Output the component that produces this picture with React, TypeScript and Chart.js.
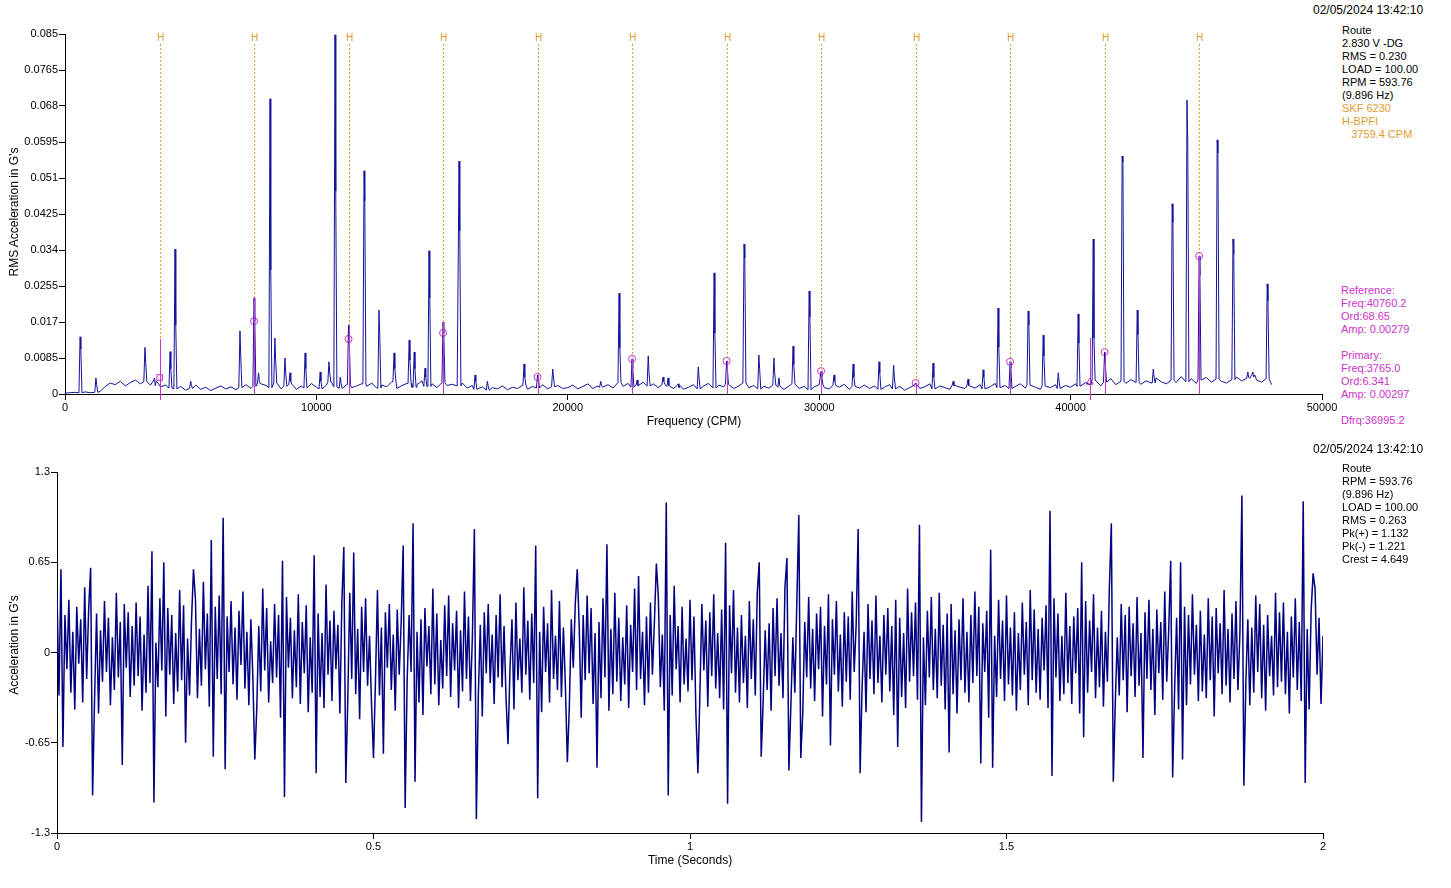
import React, { useEffect, useRef } from "react";
import { Chart, registerables } from "chart.js";

Chart.register(...registerables);

const FONT = '"Liberation Sans", Arial, Helvetica, sans-serif';
const INK = "#000000";
const SPEC_COLOR = "#12129c";
const WAVE_COLOR = "#000080";
const MAGENTA = "#cc33cc";
const ORANGE = "#e09a30";

// ---------------- Spectrum data ----------------
const specXTicks = [0, 10000, 20000, 30000, 40000, 50000];
const specYTicks = [0, 0.0085, 0.017, 0.0255, 0.034, 0.0425, 0.051, 0.0595, 0.068, 0.0765, 0.085];
const SPEC_BASE_STEP = 200; // CPM between baseline samples
const specBase = [
  0.0002, 0.0003, 0.0004, 0.0003, 0.0005, 0.0003, 0.0004, 0.0006, 0.0018, 0.0026, 0.0022, 0.003, 0.0019, 0.0027, 0.0033, 0.0024, 0.0029, 0.0021, 0.0031, 0.0017,
  0.0021, 0.0014, 0.0012, 0.0018, 0.0009, 0.0013, 0.0021, 0.0011, 0.0016, 0.0008, 0.0014, 0.0019, 0.0012, 0.0017, 0.001, 0.0015, 0.0022, 0.0013, 0.0018, 0.0024,
  0.002, 0.0015, 0.0026, 0.0012, 0.0018, 0.0023, 0.0011, 0.0019, 0.0014, 0.0025, 0.0016, 0.0012, 0.0021, 0.0028, 0.0017, 0.0013, 0.0022, 0.0015, 0.0019, 0.0024,
  0.0018, 0.0026, 0.0014, 0.0021, 0.0017, 0.0029, 0.0013, 0.002, 0.0025, 0.0016, 0.0022, 0.0031, 0.0018, 0.0024, 0.0015, 0.0027, 0.002, 0.0023, 0.0019, 0.0026,
  0.0014, 0.002, 0.0011, 0.0017, 0.0009, 0.0015, 0.0012, 0.0019, 0.001, 0.0016, 0.0013, 0.0021, 0.0011, 0.0018, 0.0014, 0.0022, 0.0012, 0.0017, 0.002, 0.0013,
  0.0015, 0.0021, 0.0012, 0.0018, 0.0024, 0.0013, 0.0019, 0.0016, 0.0022, 0.0014, 0.0027, 0.0018, 0.0025, 0.0016, 0.0021, 0.0028, 0.0019, 0.0024, 0.0015, 0.0022,
  0.0018, 0.0013, 0.002, 0.0011, 0.0016, 0.0022, 0.0012, 0.0019, 0.0025, 0.0014, 0.0021, 0.0017, 0.0023, 0.0013, 0.0019, 0.0026, 0.0015, 0.002, 0.0012, 0.0018,
  0.0014, 0.0021, 0.0016, 0.0011, 0.0019, 0.0024, 0.0013, 0.0018, 0.001, 0.0017, 0.0022, 0.0015, 0.0012, 0.002, 0.0016, 0.0023, 0.0011, 0.0018, 0.0014, 0.0021,
  0.0013, 0.0019, 0.0011, 0.0016, 0.0022, 0.0012, 0.0018, 0.0009, 0.0015, 0.0021, 0.0013, 0.0017, 0.0024, 0.0012, 0.0019, 0.0015, 0.0011, 0.002, 0.0016, 0.0013,
  0.0019, 0.0014, 0.0022, 0.0012, 0.0017, 0.0025, 0.0015, 0.002, 0.0013, 0.0018, 0.0024, 0.0014, 0.0021, 0.0016, 0.0011, 0.0019, 0.0015, 0.0022, 0.0013, 0.002,
  0.0016, 0.0024, 0.0018, 0.0027, 0.0021, 0.0033, 0.0019, 0.0028, 0.0036, 0.0022, 0.003, 0.0025, 0.0034, 0.0027, 0.0023, 0.0031, 0.0026, 0.0038, 0.0029, 0.0024,
  0.0032, 0.0027, 0.0041, 0.0029, 0.0036, 0.0025, 0.0033, 0.0039, 0.0028, 0.0035, 0.003, 0.0026, 0.0034, 0.004, 0.0031, 0.0037, 0.0045, 0.0033, 0.0028, 0.0036,
  0.0022,
];
// [frequency CPM, peak amplitude, adjacent-bin amplitude]
const specPeaks: [number, number, number][] = [
  [600, 0.0135, 0.0106], [1230, 0.0038, 0.0022], [3180, 0.011, 0.0075], [3560, 0.0038, 0.002],
  [4180, 0.01, 0.006], [4376, 0.0342, 0.0163], [5000, 0.003, 0.002], [6960, 0.0149, 0.009],
  [7519, 0.0227, 0.0172], [7700, 0.005, 0.003], [8155, 0.0697, 0.0293], [8350, 0.0132, 0.008],
  [8750, 0.0085, 0.005], [8950, 0.005, 0.003], [9550, 0.0097, 0.006], [10150, 0.0052, 0.003],
  [10500, 0.0076, 0.005], [10740, 0.0848, 0.0479], [10950, 0.004, 0.0025], [11278, 0.0163, 0.013],
  [11895, 0.0527, 0.0456], [12490, 0.0198, 0.014], [13090, 0.0097, 0.006], [13690, 0.0127, 0.008],
  [13890, 0.0099, 0.006], [14320, 0.0061, 0.004], [14480, 0.0338, 0.0227], [15038, 0.017, 0.0144],
  [15673, 0.055, 0.0385], [16310, 0.0045, 0.003], [16800, 0.003, 0.002], [18260, 0.0071, 0.004],
  [18797, 0.0045, 0.004], [19400, 0.0059, 0.004], [21310, 0.003, 0.002], [22040, 0.0238, 0.0109],
  [22556, 0.0083, 0.006], [22760, 0.0033, 0.002], [23200, 0.009, 0.005], [23790, 0.004, 0.003],
  [23990, 0.0038, 0.002], [24390, 0.0024, 0.0015], [25190, 0.0064, 0.004], [25820, 0.0286, 0.0144],
  [26316, 0.0078, 0.006], [27010, 0.0354, 0.0321], [27600, 0.0092, 0.006], [28200, 0.0085, 0.005],
  [28400, 0.0038, 0.002], [28960, 0.0113, 0.007], [29600, 0.0243, 0.0182], [30075, 0.0054, 0.004],
  [30590, 0.0045, 0.003], [31350, 0.0071, 0.004], [32380, 0.0076, 0.005], [32960, 0.0068, 0.004],
  [33834, 0.0026, 0.002], [34530, 0.0073, 0.004], [35330, 0.003, 0.002], [35920, 0.0035, 0.002],
  [36520, 0.0057, 0.004], [37115, 0.0203, 0.0111], [37594, 0.0076, 0.006], [38310, 0.0196, 0.0163],
  [38910, 0.0139, 0.009], [39510, 0.005, 0.003], [40300, 0.0189, 0.012], [40900, 0.0366, 0.0132],
  [41353, 0.0099, 0.007], [42050, 0.0562, 0.0548], [42650, 0.0198, 0.014], [43290, 0.0059, 0.004],
  [44040, 0.0449, 0.0406], [44630, 0.0694, 0.0597], [45113, 0.0326, 0.028], [45830, 0.06, 0.0569],
  [46460, 0.0366, 0.033], [47050, 0.0052, 0.004], [47250, 0.0052, 0.004], [47820, 0.026, 0.022],
];
const harmonicCpm = [3759.4, 7518.8, 11278.2, 15037.6, 18797, 22556.4, 26315.8, 30075.2, 33834.6, 37594, 41353.4, 45112.8];
const markerCpm = [7518.8, 11278.2, 15037.6, 18797, 22556.4, 26315.8, 30075.2, 33834.6, 37594, 41353.4, 45112.8];
const markerAmp = [0.0172, 0.013, 0.0144, 0.004, 0.0083, 0.0078, 0.0054, 0.0026, 0.0076, 0.0099, 0.0326];
const markerTop = [0.0227, 0.0163, 0.017, 0.0045, 0.0083, 0.0078, 0.0054, 0.0026, 0.0076, 0.0099, 0.0326];
const cursorCpm = [3765, 40760.2];
const cursorAmp = [0.0039, 0.0028];
const cursorTop = [0.013, 0.0132];

// ---------------- Waveform data ----------------
const waveXTicks = [0, 0.5, 1, 1.5, 2];
const waveYTicks = [-1.3, -0.65, 0, 0.65, 1.3];
const WAVE_RATE = 320; // samples per second in this list
const waveNoise = [
  0.42, -0.31, 0.18, -0.55, 0.27, -0.12, 0.38, -0.29, 0.15, -0.41, 0.33, -0.08, 0.24, -0.36, 0.47, -0.19, 0.31, -0.26, 0.09, -0.33,
  0.28, -0.44, 0.16, -0.21, 0.37, -0.14, 0.25, -0.38, 0.11, -0.27, 0.43, -0.18, 0.22, -0.49, 0.35, -0.11, 0.29, -0.32, 0.19, -0.24,
  0.36, -0.17, 0.26, -0.42, 0.13, -0.29, 0.48, -0.22, 0.31, -0.35, 0.07, -0.25, 0.39, -0.13, 0.21, -0.46, 0.32, -0.16, 0.27, -0.37,
  0.14, -0.28, 0.45, -0.2, 0.34, -0.41, 0.1, -0.31, 0.23, -0.15, 0.38, -0.33, 0.17, -0.24, 0.51, -0.12, 0.28, -0.39, 0.2, -0.27,
  0.33, -0.19, 0.41, -0.3, 0.12, -0.45, 0.26, -0.14, 0.37, -0.23, 0.18, -0.34, 0.3, -0.09, 0.44, -0.26, 0.15, -0.38, 0.24, -0.17,
  0.29, -0.4, 0.19, -0.28, 0.46, -0.13, 0.32, -0.36, 0.08, -0.22, 0.35, -0.18, 0.27, -0.47, 0.2, -0.3, 0.4, -0.11, 0.25, -0.33,
  0.16, -0.25, 0.42, -0.37, 0.22, -0.15, 0.34, -0.43, 0.11, -0.29, 0.38, -0.2, 0.28, -0.32, 0.14, -0.4, 0.49, -0.16, 0.23, -0.35,
  0.3, -0.12, 0.2, -0.44, 0.36, -0.26, 0.1, -0.34, 0.43, -0.19, 0.26, -0.3, 0.17, -0.48, 0.33, -0.14, 0.39, -0.24, 0.12, -0.37,
  0.25, -0.2, 0.45, -0.31, 0.18, -0.39, 0.29, -0.11, 0.35, -0.27, 0.13, -0.42, 0.31, -0.16, 0.22, -0.33, 0.4, -0.21, 0.27, -0.14,
  0.37, -0.29, 0.15, -0.36, 0.24, -0.45, 0.32, -0.1, 0.19, -0.3, 0.46, -0.23, 0.28, -0.38, 0.09, -0.26, 0.34, -0.17, 0.41, -0.32,
  0.21, -0.13, 0.3, -0.4, 0.16, -0.28, 0.44, -0.19, 0.26, -0.35, 0.12, -0.24, 0.38, -0.31, 0.2, -0.46, 0.29, -0.15, 0.35, -0.22,
  0.13, -0.37, 0.27, -0.18, 0.42, -0.25, 0.19, -0.33, 0.31, -0.12, 0.24, -0.41, 0.36, -0.2, 0.1, -0.29, 0.47, -0.16, 0.23, -0.34,
  0.28, -0.22, 0.4, -0.3, 0.15, -0.43, 0.33, -0.14, 0.21, -0.36, 0.45, -0.19, 0.12, -0.27, 0.37, -0.32, 0.18, -0.24, 0.3, -0.39,
  0.24, -0.11, 0.35, -0.28, 0.19, -0.47, 0.27, -0.2, 0.41, -0.15, 0.32, -0.37, 0.14, -0.26, 0.22, -0.33, 0.39, -0.18, 0.29, -0.42,
  0.17, -0.3, 0.43, -0.21, 0.25, -0.35, 0.11, -0.23, 0.34, -0.4, 0.2, -0.14, 0.46, -0.27, 0.31, -0.19, 0.15, -0.38, 0.26, -0.29,
  0.36, -0.16, 0.22, -0.34, 0.4, -0.25, 0.13, -0.42, 0.3, -0.18, 0.27, -0.31, 0.48, -0.12, 0.19, -0.36, 0.33, -0.23, 0.1, -0.28,
  0.38, -0.2, 0.26, -0.45, 0.16, -0.3, 0.35, -0.13, 0.23, -0.39, 0.29, -0.17, 0.42, -0.26, 0.14, -0.33, 0.31, -0.41, 0.2, -0.24,
  0.34, -0.15, 0.45, -0.29, 0.18, -0.36, 0.27, -0.22, 0.12, -0.4, 0.37, -0.19, 0.24, -0.31, 0.43, -0.13, 0.28, -0.35, 0.16, -0.27,
  0.21, -0.42, 0.32, -0.17, 0.39, -0.24, 0.14, -0.33, 0.47, -0.2, 0.25, -0.38, 0.11, -0.29, 0.36, -0.15, 0.3, -0.44, 0.22, -0.18,
  0.4, -0.26, 0.17, -0.35, 0.28, -0.12, 0.33, -0.46, 0.19, -0.23, 0.42, -0.31, 0.24, -0.16, 0.37, -0.28, 0.13, -0.39, 0.29, -0.21,
  0.26, -0.34, 0.44, -0.14, 0.2, -0.37, 0.31, -0.25, 0.15, -0.43, 0.35, -0.19, 0.23, -0.3, 0.41, -0.22, 0.12, -0.36, 0.27, -0.16,
  0.32, -0.28, 0.19, -0.45, 0.38, -0.13, 0.25, -0.32, 0.14, -0.4, 0.46, -0.21, 0.29, -0.17, 0.36, -0.34, 0.22, -0.26, 0.11, -0.38,
  0.3, -0.18, 0.4, -0.27, 0.17, -0.33, 0.43, -0.24, 0.2, -0.41, 0.28, -0.12, 0.35, -0.3, 0.16, -0.44, 0.24, -0.2, 0.39, -0.29,
  0.15, -0.36, 0.27, -0.22, 0.44, -0.17, 0.33, -0.39, 0.21, -0.14, 0.3, -0.47, 0.26, -0.25, 0.12, -0.32, 0.38, -0.19, 0.23, -0.35,
  0.41, -0.23, 0.18, -0.31, 0.29, -0.42, 0.14, -0.27, 0.36, -0.16, 0.22, -0.38, 0.45, -0.2, 0.31, -0.29, 0.17, -0.34, 0.25, -0.13,
  0.34, -0.4, 0.2, -0.26, 0.39, -0.18, 0.28, -0.35, 0.12, -0.3, 0.43, -0.22, 0.19, -0.37, 0.26, -0.15, 0.32, -0.44, 0.16, -0.24,
  0.37, -0.29, 0.23, -0.14, 0.42, -0.33, 0.18, -0.25, 0.3, -0.39, 0.15, -0.21, 0.46, -0.28, 0.24, -0.36, 0.11, -0.31, 0.35, -0.2,
  0.27, -0.43, 0.33, -0.17, 0.21, -0.32, 0.4, -0.24, 0.14, -0.37, 0.29, -0.19, 0.38, -0.27, 0.17, -0.45, 0.31, -0.15, 0.22, -0.34,
  0.44, -0.21, 0.16, -0.3, 0.36, -0.26, 0.25, -0.41, 0.19, -0.12, 0.33, -0.38, 0.27, -0.23, 0.42, -0.16, 0.2, -0.35, 0.3, -0.28,
  0.13, -0.33, 0.39, -0.2, 0.26, -0.46, 0.32, -0.15, 0.21, -0.3, 0.45, -0.24, 0.17, -0.36, 0.28, -0.19, 0.37, -0.27, 0.14, -0.4,
  0.31, -0.22, 0.24, -0.38, 0.18, -0.29, 0.41, -0.14, 0.35, -0.33, 0.2, -0.42, 0.27, -0.17, 0.12, -0.31, 0.43, -0.25, 0.29, -0.21,
  0.36, -0.3, 0.15, -0.44, 0.26, -0.18, 0.39, -0.27, 0.22, -0.35, 0.33, -0.2, 0.17, -0.41, 0.3, -0.24, 0.46, -0.16, 0.25, -0.37,
  0.12,
];
// [time s, acceleration G] impacts
const waveSpikes: [number, number][] = [
  [0.0063, 0.6], [0.0094, -0.68], [0.0531, 0.61], [0.0563, -1.03], [0.1031, -0.81], [0.15, 0.73], [0.1531, -1.08],
  [0.1688, 0.65], [0.2031, -0.65], [0.2156, 0.6], [0.2438, 0.81], [0.2469, -0.75], [0.2625, 0.97], [0.2656, -0.84],
  [0.3125, -0.77], [0.3563, 0.66], [0.3594, -1.04], [0.4063, 0.7], [0.4094, -0.87], [0.4531, 0.76], [0.4563, -0.94],
  [0.4688, 0.72], [0.5, -0.76], [0.5156, -0.73], [0.5469, 0.77], [0.55, -1.12], [0.5625, 0.93], [0.5656, -0.93],
  [0.6594, 0.89], [0.6625, -1.2], [0.7125, -0.66], [0.7563, 0.77], [0.7594, -1.05], [0.8063, -0.79], [0.8219, 0.6],
  [0.8531, -0.83], [0.8688, 0.78], [0.9188, 0.55], [0.9469, 0.64], [0.9625, 1.08], [0.9656, -1.03], [1.0125, -0.87],
  [1.0563, 0.79], [1.0594, -1.09], [1.1094, 0.65], [1.1125, -0.75], [1.1531, 0.68], [1.1563, -0.85], [1.1719, 0.99],
  [1.175, -0.76], [1.2219, -0.67], [1.2656, 0.89], [1.2688, -0.87], [1.3281, -0.68], [1.3625, 0.92], [1.3656, -1.22],
  [1.4094, -0.72], [1.4594, -0.8], [1.475, 0.74], [1.4781, -0.83], [1.5688, 1.02], [1.5719, -0.89], [1.6188, 0.65],
  [1.6219, -0.61], [1.6656, 0.93], [1.6688, -0.93], [1.7156, -0.76], [1.7594, 0.66], [1.7625, -0.9], [1.775, 0.65],
  [1.7781, -0.77], [1.8719, 1.13], [1.875, -0.96], [1.9688, 1.09], [1.9719, -0.94], [1.9844, 0.57],
];

// ---------------- Text ----------------
const stampText = "02/05/2024 13:42:10";
const specInfo = ["Route", "2.830 V -DG", "RMS = 0.230", "LOAD = 100.00", "RPM = 593.76", "(9.896 Hz)"];
const bearingInfo = ["SKF 6230", "H-BPFI", "\u00a0\u00a0\u00a03759.4 CPM"];
const cursorInfo = ["Reference:", "Freq:40760.2", "Ord:68.65", "Amp: 0.00279", "", "Primary:", "Freq:3765.0", "Ord:6.341", "Amp: 0.00297", "", "Dfrq:36995.2"];
const waveInfo = ["Route", "RPM = 593.76", "(9.896 Hz)", "LOAD = 100.00", "RMS = 0.263", "Pk(+) = 1.132", "Pk(-) = 1.221", "Crest = 4.649"];

// ---------------- Builders ----------------
function buildSpectrum() {
  const pts: { x: number; y: number }[] = [];
  specBase.forEach((a, i) => {
    const f = i * SPEC_BASE_STEP;
    const near = specPeaks.some(([pf]) => f >= pf - 60 && f <= pf + 90);
    if (!near) pts.push({ x: f, y: a });
  });
  specPeaks.forEach(([pf, a1, a2]) => {
    const bi = Math.min(specBase.length - 1, Math.round(pf / SPEC_BASE_STEP));
    const foot = specBase[bi];
    pts.push({ x: pf - 45, y: foot }, { x: pf, y: a1 }, { x: pf + 30, y: a2 }, { x: pf + 75, y: foot });
  });
  pts.sort((a, b) => a.x - b.x);
  return pts;
}

function buildWave() {
  const vals = waveNoise.slice();
  waveSpikes.forEach(([t, v]) => {
    const i = Math.round(t * WAVE_RATE);
    if (i >= 0 && i < vals.length) vals[i] = v;
  });
  return vals.map((v, i) => ({ x: i / WAVE_RATE, y: v }));
}

function axis(ticks: number[], fit: (s: any) => void) {
  return {
    type: "linear" as const,
    min: ticks[0],
    max: ticks[ticks.length - 1],
    afterBuildTicks: (s: any) => {
      s.ticks = ticks.map((v) => ({ value: v }));
    },
    afterFit: fit,
    grid: { display: true, drawOnChartArea: false, drawTicks: true, tickLength: 6, color: INK, lineWidth: 1 },
    border: { display: true, color: INK, width: 1 },
    ticks: {
      color: INK,
      font: { family: FONT, size: 11 },
      padding: 1,
      autoSkip: false,
      maxRotation: 0,
      callback: (v: any) => String(v),
    },
    title: { display: false },
  };
}

const specOverlay = {
  id: "specOverlay",
  beforeDatasetsDraw(chart: any) {
    const { ctx, chartArea, scales } = chart;
    const x = scales.x;
    ctx.save();
    ctx.strokeStyle = ORANGE;
    ctx.lineWidth = 1;
    ctx.setLineDash([2, 2]);
    ctx.fillStyle = ORANGE;
    ctx.font = `10px ${FONT}`;
    ctx.textAlign = "center";
    ctx.textBaseline = "middle";
    harmonicCpm.forEach((f) => {
      const px = Math.round(x.getPixelForValue(f)) + 0.5;
      ctx.beginPath();
      ctx.moveTo(px, chartArea.top + 10);
      ctx.lineTo(px, chartArea.bottom);
      ctx.stroke();
      ctx.fillText("H", px, chartArea.top + 4);
    });
    ctx.restore();
  },
  afterDatasetDraw(chart: any, args: any) {
    if (args.index !== 0) return;
    const { ctx, chartArea, scales } = chart;
    const x = scales.x;
    const y = scales.y;
    ctx.save();
    ctx.strokeStyle = MAGENTA;
    ctx.lineWidth = 1;
    markerCpm.forEach((f, i) => {
      const px = Math.round(x.getPixelForValue(f)) + 0.5;
      ctx.beginPath();
      ctx.moveTo(px, y.getPixelForValue(0));
      ctx.lineTo(px, y.getPixelForValue(markerTop[i]));
      ctx.stroke();
    });
    cursorCpm.forEach((f, i) => {
      const px = Math.round(x.getPixelForValue(f)) + 0.5;
      ctx.beginPath();
      ctx.moveTo(px, chartArea.bottom + 6);
      ctx.lineTo(px, y.getPixelForValue(cursorTop[i]));
      ctx.stroke();
    });
    ctx.restore();
  },
};

function SpectrumChart() {
  const ref = useRef<HTMLCanvasElement | null>(null);
  useEffect(() => {
    const chart = new Chart(ref.current as HTMLCanvasElement, {
      type: "scatter",
      data: {
        datasets: [
          {
            data: buildSpectrum(),
            showLine: true,
            borderColor: SPEC_COLOR,
            borderWidth: 1,
            pointRadius: 0,
            tension: 0,
          } as any,
          {
            data: markerCpm.map((f, i) => ({ x: f, y: markerAmp[i] })),
            pointStyle: "circle",
            pointRadius: 3.5,
            borderColor: MAGENTA,
            backgroundColor: "rgba(255,255,255,0.5)",
            borderWidth: 1,
          } as any,
          {
            data: cursorCpm.map((f, i) => ({ x: f, y: cursorAmp[i] })),
            pointStyle: ["rect", "triangle"],
            pointRadius: 4,
            borderColor: MAGENTA,
            backgroundColor: "rgba(255,200,255,0.4)",
            borderWidth: 1,
          } as any,
        ],
      },
      options: {
        animation: false,
        responsive: false,
        maintainAspectRatio: false,
        layout: { padding: { top: 14, right: 18, left: 0, bottom: 0 } },
        plugins: { legend: { display: false }, tooltip: { enabled: false } },
        scales: {
          x: axis(specXTicks, (s: any) => { s.height = 36; }),
          y: axis(specYTicks, (s: any) => { s.width = 65; }),
        } as any,
      },
      plugins: [specOverlay],
    });
    return () => chart.destroy();
  }, []);
  return (
    <canvas
      ref={ref}
      width={1340}
      height={410}
      style={{ position: "absolute", left: 0, top: 20, width: 1340, height: 410 }}
    />
  );
}

function WaveChart() {
  const ref = useRef<HTMLCanvasElement | null>(null);
  useEffect(() => {
    const chart = new Chart(ref.current as HTMLCanvasElement, {
      type: "scatter",
      data: {
        datasets: [
          {
            data: buildWave(),
            showLine: true,
            borderColor: WAVE_COLOR,
            borderWidth: 1.5,
            pointRadius: 0,
            tension: 0,
          } as any,
        ],
      },
      options: {
        animation: false,
        responsive: false,
        maintainAspectRatio: false,
        layout: { padding: { top: 10, right: 17, left: 0, bottom: 0 } },
        plugins: { legend: { display: false }, tooltip: { enabled: false } },
        scales: {
          x: axis(waveXTicks, (s: any) => { s.height = 21; }),
          y: axis(waveYTicks, (s: any) => { s.width = 57; }),
        } as any,
      },
    });
    return () => chart.destroy();
  }, []);
  return (
    <canvas
      ref={ref}
      width={1340}
      height={392}
      style={{ position: "absolute", left: 0, top: 462, width: 1340, height: 392 }}
    />
  );
}

function Lines(props: { lines: string[]; left: number; top: number; color: string; size?: number; lh?: number }) {
  const { lines, left, top, color, size = 11, lh = 13 } = props;
  return (
    <div
      style={{
        position: "absolute",
        left,
        top,
        color,
        fontFamily: FONT,
        fontSize: size,
        lineHeight: `${lh}px`,
        whiteSpace: "pre",
      }}
    >
      {lines.map((l, i) => (
        <div key={i}>{l === "" ? "\u00a0" : l}</div>
      ))}
    </div>
  );
}

function Label(props: { text: string; cx: number; cy: number; rotate?: boolean; size?: number }) {
  const { text, cx, cy, rotate, size = 12 } = props;
  return (
    <div
      style={{
        position: "absolute",
        left: cx,
        top: cy,
        transform: `translate(-50%, -50%)${rotate ? " rotate(-90deg)" : ""}`,
        fontFamily: FONT,
        fontSize: size,
        lineHeight: "14px",
        color: INK,
        whiteSpace: "nowrap",
      }}
    >
      {text}
    </div>
  );
}

export default function App() {
  return (
    <div
      style={{
        position: "fixed",
        left: 0,
        top: 0,
        width: 1451,
        height: 888,
        background: "#ffffff",
        overflow: "hidden",
      }}
    >
      <SpectrumChart />
      <WaveChart />
      <Lines lines={[stampText]} left={1313} top={3} color={INK} size={12} lh={14} />
      <Lines lines={specInfo} left={1342} top={24} color={INK} />
      <Lines lines={bearingInfo} left={1342} top={102} color={ORANGE} />
      <Lines lines={cursorInfo} left={1341} top={284} color={MAGENTA} />
      <Lines lines={[stampText]} left={1313} top={442} color={INK} size={12} lh={14} />
      <Lines lines={waveInfo} left={1342} top={462} color={INK} />
      <Label text="RMS Acceleration in G's" cx={14} cy={212} rotate />
      <Label text="Frequency (CPM)" cx={694} cy={421} />
      <Label text="Acceleration in G's" cx={14} cy={645} rotate />
      <Label text="Time (Seconds)" cx={690} cy={860} />
    </div>
  );
}
